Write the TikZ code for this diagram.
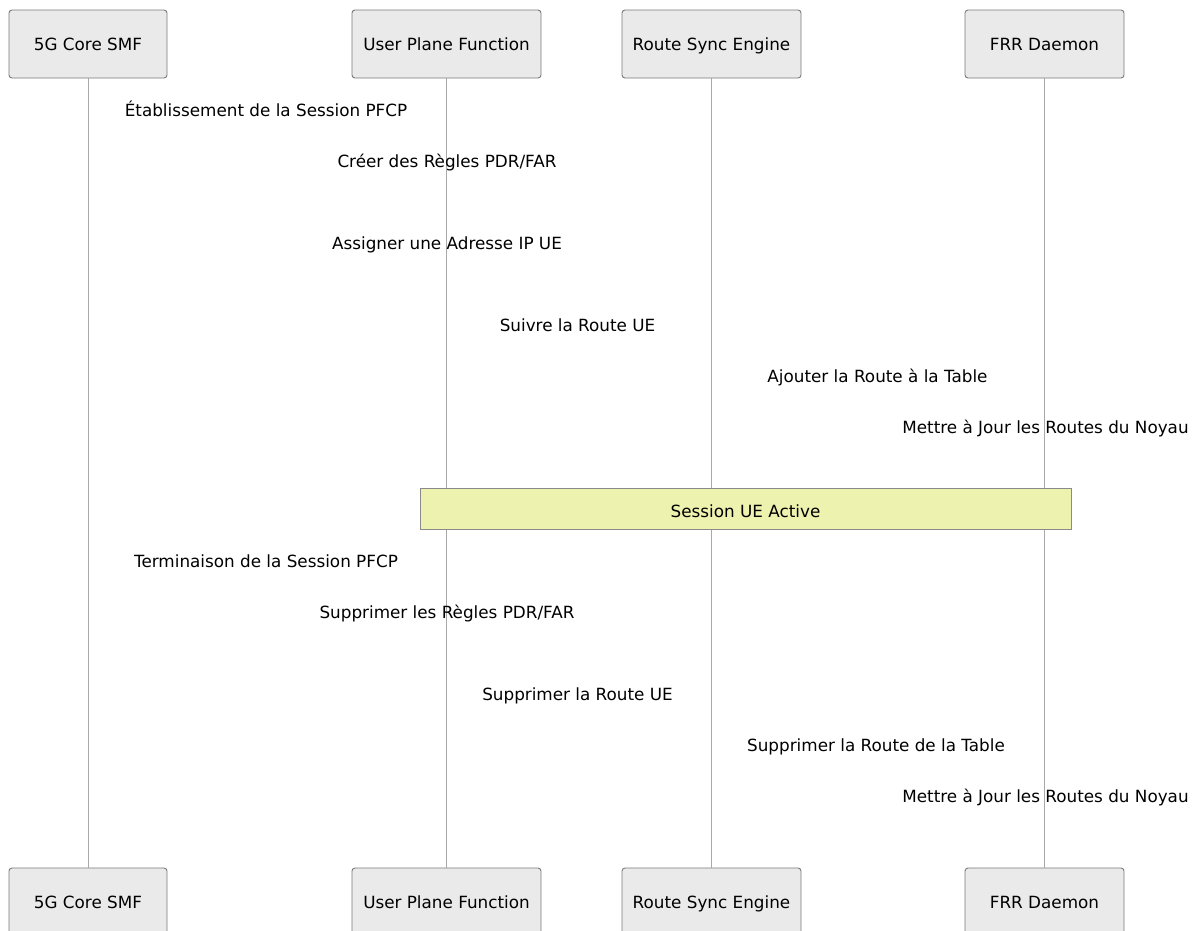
\documentclass[tikz,border=0pt]{standalone}
\usepackage{fontspec}
\setmainfont{DejaVu Sans}
\definecolor{boxfill}{HTML}{EAEAEA}
\definecolor{boxborder}{HTML}{7A7A7A}
\definecolor{lifeline}{HTML}{A8A8A8}
\definecolor{notefill}{HTML}{EEF2AF}
\definecolor{noteborder}{HTML}{8A8A8A}
\begin{document}
\begin{tikzpicture}[x=1pt,y=-1pt,
  txt/.style={font=\fontsize{16.8}{19}\selectfont, text height=14.7pt, text depth=0.9pt},
  actor/.style={txt, draw=boxborder, fill=boxfill, rounded corners=3pt, line width=0.9pt,
    minimum height=68pt, inner sep=0pt},
  life/.style={draw=lifeline, line width=1pt},
  msg/.style={txt, inner sep=0pt},
  notebox/.style={txt, draw=noteborder, fill=notefill, line width=0.9pt, inner sep=0pt,
    minimum width=651pt, minimum height=41pt}]
\useasboundingbox (0,0) rectangle (1197,930);
\clip (0,0) rectangle (1197,930);
\fill[white] (0,0) rectangle (1197,930);
% top actors
\node[actor, minimum width=158pt] (smf) at (88,44) {5G Core SMF};
\node[actor, minimum width=189pt] (upf) at (446.5,44) {User Plane Function};
\node[actor, minimum width=179pt] (rse) at (711.5,44) {Route Sync Engine};
\node[actor, minimum width=159pt] (frr) at (1044.5,44) {FRR Daemon};
% bottom actors
\node[actor, minimum width=158pt] (smfb) at (88,902) {5G Core SMF};
\node[actor, minimum width=189pt] (upfb) at (446.5,902) {User Plane Function};
\node[actor, minimum width=179pt] (rseb) at (711.5,902) {Route Sync Engine};
\node[actor, minimum width=159pt] (frrb) at (1044.5,902) {FRR Daemon};
% lifelines
\draw[life] (smf.south) -- (smfb.north);
\draw[life] (upf.south) -- (upfb.north);
\draw[life] (rse.south) -- (rseb.north);
\draw[life] (frr.south) -- (frrb.north);
% messages
\node[msg] (m1) at (266,110) {Établissement de la Session PFCP};
\node[msg] (m2) at (447,161) {Créer des Règles PDR/FAR};
\node[msg] (m3) at (447,243) {Assigner une Adresse IP UE};
\node[msg] (m4) at (577.5,325) {Suivre la Route UE};
\node[msg] (m5) at (877.5,376) {Ajouter la Route à la Table};
\node[msg] (m6) at (1045.5,427) {Mettre à Jour les Routes du Noyau};
% note
\node[notebox] (note) at (745.5,508.5) {\raisebox{-2.5pt}{Session UE Active}};
% messages after note
\node[msg] (m7) at (266,561) {Terminaison de la Session PFCP};
\node[msg] (m8) at (447,612) {Supprimer les Règles PDR/FAR};
\node[msg] (m9) at (577.5,694) {Supprimer la Route UE};
\node[msg] (m10) at (876,745) {Supprimer la Route de la Table};
\node[msg] (m11) at (1045.5,796) {Mettre à Jour les Routes du Noyau};
\end{tikzpicture}
\end{document}
